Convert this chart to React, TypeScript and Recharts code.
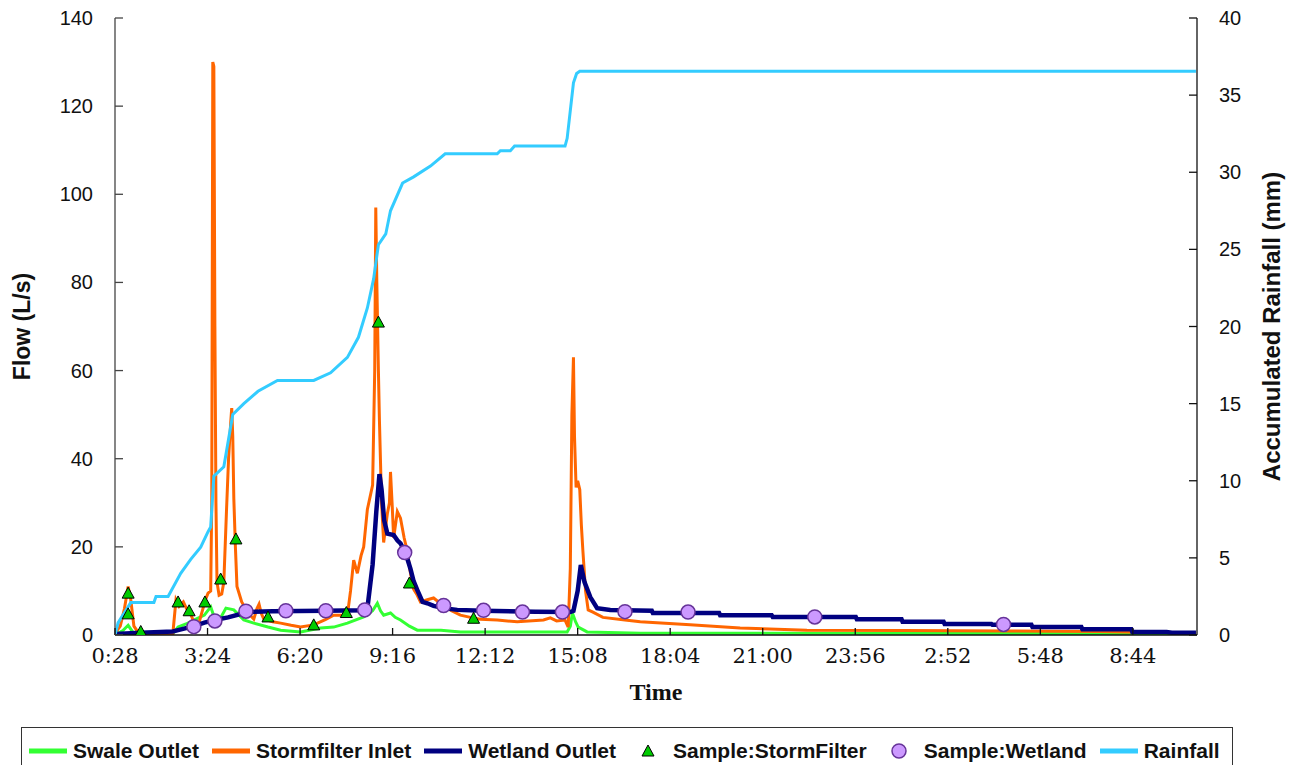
import React from "react";
import { ComposedChart, Line, Scatter, XAxis, YAxis, Label } from "recharts";

// ---------- axes ----------
const TICK_STEP = 176; // minutes between time ticks
const tickLabels = ["0:28", "3:24", "6:20", "9:16", "12:12", "15:08", "18:04", "21:00", "23:56", "2:52", "5:48", "8:44"];
const X_MAX = 2058; // minutes after 0:28
const flowTicks = [0, 20, 40, 60, 80, 100, 120, 140];
const rainTicks = [0, 5, 10, 15, 20, 25, 30, 35, 40];

// ---------- series: [minutes after 0:28, value] ----------
const swaleOutlet = [
  [0, 0], [15, 1], [25, 2.2], [36, 0.3], [110, 0.3], [120, 1.8], [135, 2.5], [150, 3.4], [170, 4.5], [182, 6.4],
  [186, 5], [190, 3.4], [201, 3.9], [211, 6.1], [226, 5.7], [245, 3.4], [264, 2.7], [291, 1.8], [315, 1.1], [353, 0.7],
  [391, 1.6], [416, 1.8], [442, 2.7], [473, 4.1], [490, 5.5], [499, 7.2], [505, 5.5], [511, 4.5], [524, 5], [533, 4],
  [543, 3.4], [560, 2], [575, 1.1], [620, 1.1], [657, 0.7], [860, 0.7], [866, 2], [870, 5], [876, 3], [881, 1.8],
  [898, 0.7], [1000, 0.4], [2056, 0.3],
];

const stormfilterInlet = [
  [0, 0.4], [10, 2], [18, 6], [25, 11], [30, 8], [36, 2], [44, 0.6], [60, 0.2], [90, 0], [110, 0.3],
  [116, 8], [122, 6.5], [130, 7.5], [136, 6], [141, 5.5], [150, 3], [158, 2], [165, 5], [172, 8], [177, 9.5],
  [182, 10], [184, 30], [186, 130], [188, 129], [190, 70], [192, 30], [194, 12], [198, 9], [203, 9.3], [207, 12],
  [212, 28], [216, 40], [220, 48], [222, 51.5], [224, 45], [226, 31], [229, 20], [232, 11], [241, 7.5], [253, 5],
  [264, 3.6], [270, 6], [274, 7], [278, 5], [283, 3.6], [300, 3], [315, 2.7], [335, 2.2], [353, 1.8], [378, 2.3],
  [400, 3.5], [416, 4.5], [442, 4.5], [448, 10], [454, 17], [461, 14], [468, 18], [473, 20], [480, 28.5], [490, 34],
  [494, 60], [496, 97], [498, 80], [501, 60], [503, 48.5], [507, 30], [511, 21], [518, 27.5], [522, 30], [524, 37],
  [527, 30], [530, 22], [537, 28], [543, 26.5], [550, 22], [556, 19], [562, 14], [568, 10.4], [575, 9], [581, 7.5],
  [594, 8], [606, 8.4], [625, 6.6], [640, 5.5], [657, 4.5], [676, 4], [695, 3.6], [727, 3.4], [765, 3], [815, 3.4],
  [828, 3.9], [840, 3.2], [856, 3.4], [862, 1.8], [866, 15], [869, 50], [872, 63], [874, 45], [877, 33.5], [880, 35],
  [884, 33], [887, 25], [890, 19], [895, 10], [900, 5.7], [909, 5.2], [928, 4], [970, 3.4], [999, 3], [1094, 2.3],
  [1189, 1.6], [1316, 1.1], [1500, 1.0], [1700, 0.9], [1872, 0.8], [1950, 0.6], [2056, 0.5],
];

const wetlandOutlet = [
  [0, 0.2], [50, 0.5], [110, 0.8], [120, 1.1], [150, 2], [170, 2.8], [190, 3.4], [215, 4], [253, 5.2], [300, 5.4],
  [400, 5.5], [475, 5.6], [480, 6], [490, 16], [497, 28], [503, 36.5], [507, 33], [512, 26], [518, 23], [530, 22.7],
  [537, 21.5], [543, 20.8], [553, 18.5], [562, 15], [568, 12.2], [575, 10.2], [585, 7.5], [594, 7.2], [606, 6.6], [625, 6.1],
  [651, 5.7], [700, 5.5], [800, 5.3], [866, 5.2], [872, 5.5], [880, 10], [886, 15.9], [893, 12], [904, 8.6], [917, 6.1],
  [942, 5.7], [1021, 5.5], [1023, 5.0], [1149, 5.0], [1151, 4.5], [1249, 4.5], [1251, 4.1], [1409, 4.1], [1411, 3.6], [1496, 3.6],
  [1498, 3.0], [1576, 3.0], [1578, 2.5], [1667, 2.5], [1669, 2.3], [1743, 2.3], [1745, 1.8], [1838, 1.8], [1840, 1.3], [1933, 1.3],
  [1935, 0.7], [2000, 0.7], [2010, 0.5], [2056, 0.5],
];

const sampleStormFilter = [
  [25, 9.5], [25, 4.8], [49, 0.8], [120, 7.5], [141, 5.5], [171, 7.5], [201, 12.7], [230, 21.8], [291, 4.1], [378, 2.3],
  [440, 5.1], [501, 71], [560, 11.8], [682, 3.8],
];

const sampleWetland = [
  [150, 1.9], [190, 3.2], [249, 5.4], [325, 5.5], [401, 5.5], [475, 5.7], [551, 18.7], [625, 6.7], [701, 5.6], [775, 5.2],
  [851, 5.2], [970, 5.3], [1090, 5.2], [1331, 4.1], [1690, 2.4],
];

const rainfall = [
  [0, 0], [6, 0.8], [30, 2.1], [74, 2.1], [78, 2.5], [101, 2.5], [125, 4.0], [144, 4.9], [163, 5.7], [177, 6.7],
  [182, 7.0], [188, 10.3], [207, 10.9], [224, 14.3], [245, 15.0], [272, 15.8], [309, 16.5], [378, 16.5], [410, 17.0], [442, 18.0],
  [463, 19.3], [480, 21.2], [492, 23.1], [501, 25.3], [515, 26.0], [524, 27.5], [547, 29.3], [568, 29.7], [600, 30.4], [628, 31.2],
  [727, 31.2], [733, 31.4], [752, 31.4], [760, 31.7], [856, 31.7], [860, 32.2], [866, 34.0], [872, 35.8], [878, 36.4], [884, 36.55],
  [2056, 36.55],
];

const COLORS = {
  swale: "#33FF33",
  inlet: "#FF6600",
  wetland: "#000080",
  triangle: "#00CC00",
  circle: "#CC99FF",
  circleStroke: "#663399",
  rain: "#33CCFF",
};

const toRows = (pairs: number[][]) => pairs.map(([t, v]) => ({ t, v }));

const SANS = "'Liberation Sans', Arial, sans-serif";
const SERIF = "'DejaVu Serif', serif";

function XTick(props: any) {
  const { x, y, payload } = props;
  const label = tickLabels[Math.round(payload.value / TICK_STEP)];
  return (
    <g>
      <line x1={x} x2={x} y1={y} y2={y - 7} stroke="#111" strokeWidth={1.3} />
      <text x={x} y={y + 28} textAnchor="middle" fontFamily={SERIF} fontSize={21} fill="#111">
        {label}
      </text>
    </g>
  );
}

function LeftTick(props: any) {
  const { x, y, payload } = props;
  return (
    <g>
      <line x1={x} x2={x + 8} y1={y} y2={y} stroke="#444" strokeWidth={1.3} />
      <text x={x - 22} y={y + 7} textAnchor="end" fontFamily={SANS} fontSize={20} fill="#111">
        {payload.value}
      </text>
    </g>
  );
}

function RightTick(props: any) {
  const { x, y, payload } = props;
  return (
    <g>
      <line x1={x} x2={x - 8} y1={y} y2={y} stroke="#111" strokeWidth={1.3} />
      <text x={x + 22} y={y + 7} textAnchor="start" fontFamily={SANS} fontSize={20} fill="#111">
        {payload.value}
      </text>
    </g>
  );
}

function Triangle(props: any) {
  const { cx, cy } = props;
  if (cx == null || cy == null) return null;
  return (
    <path
      d={`M${cx},${cy - 6} L${cx + 6},${cy + 5} L${cx - 6},${cy + 5} Z`}
      fill={COLORS.triangle}
      stroke="#000"
      strokeWidth={1}
    />
  );
}

function Circle(props: any) {
  const { cx, cy } = props;
  if (cx == null || cy == null) return null;
  return <circle cx={cx} cy={cy} r={7} fill={COLORS.circle} stroke={COLORS.circleStroke} strokeWidth={1.5} />;
}

const legendItems = [
  { name: "Swale Outlet", kind: "line", color: COLORS.swale },
  { name: "Stormfilter Inlet", kind: "line", color: COLORS.inlet },
  { name: "Wetland Outlet", kind: "line", color: COLORS.wetland },
  { name: "Sample:StormFilter", kind: "triangle", color: COLORS.triangle },
  { name: "Sample:Wetland", kind: "circle", color: COLORS.circle },
  { name: "Rainfall", kind: "line", color: COLORS.rain },
];

function LegendSwatch({ kind, color }: { kind: string; color: string }) {
  return (
    <svg width={38} height={20} style={{ display: "block" }}>
      {kind === "line" && <line x1={0} x2={38} y1={10} y2={10} stroke={color} strokeWidth={5} />}
      {kind === "triangle" && <path d="M19,4 L25,15 L13,15 Z" fill={color} stroke="#000" strokeWidth={1} />}
      {kind === "circle" && <circle cx={19} cy={10} r={7} fill={color} stroke={COLORS.circleStroke} strokeWidth={1.5} />}
    </svg>
  );
}

export default function App() {
  const tickValues = tickLabels.map((_, i) => i * TICK_STEP);
  return (
    <div style={{ position: "absolute", left: 0, top: 0, width: 1295, height: 765, background: "#fff", overflow: "hidden" }}>
      <ComposedChart width={1295} height={765} margin={{ top: 18, right: 0, bottom: 90, left: 0 }}>
        <XAxis
          xAxisId="top"
          orientation="top"
          type="number"
          dataKey="t"
          domain={[0, X_MAX]}
          height={0}
          tick={false}
          tickLine={false}
          axisLine={{ stroke: "#444", strokeWidth: 1.3 }}
          allowDataOverflow
        />
        <XAxis
          type="number"
          dataKey="t"
          domain={[0, X_MAX]}
          ticks={tickValues}
          interval={0}
          height={40}
          tickSize={0}
          tickMargin={0}
          tickLine={false}
          tick={<XTick />}
          axisLine={{ stroke: "#111", strokeWidth: 1.3 }}
          allowDataOverflow
        >
          <Label
            value="Time"
            position="bottom"
            offset={8}
            style={{ fontFamily: "'Liberation Serif', serif", fontWeight: 700, fontSize: 24, fill: "#111" }}
          />
        </XAxis>
        <YAxis
          yAxisId="left"
          width={115}
          domain={[0, 140]}
          ticks={flowTicks}
          interval={0}
          tickSize={0}
          tickMargin={0}
          tickLine={false}
          tick={<LeftTick />}
          axisLine={{ stroke: "#444", strokeWidth: 1.3 }}
          allowDataOverflow
        >
          <Label
            content={(p: any) => {
              const vb = p.viewBox || {};
              const cy = (vb.y ?? 0) + (vb.height ?? 0) / 2;
              return (
                <text
                  x={22}
                  y={cy}
                  transform={`rotate(-90, 22, ${cy})`}
                  textAnchor="middle"
                  dominantBaseline="central"
                  fontFamily={SANS}
                  fontWeight={700}
                  fontSize={23}
                  fill="#111"
                >
                  Flow (L/s)
                </text>
              );
            }}
          />
        </YAxis>
        <YAxis
          yAxisId="right"
          orientation="right"
          width={98}
          domain={[0, 40]}
          ticks={rainTicks}
          interval={0}
          tickSize={0}
          tickMargin={0}
          tickLine={false}
          tick={<RightTick />}
          axisLine={{ stroke: "#111", strokeWidth: 1.3 }}
          allowDataOverflow
        >
          <Label
            content={(p: any) => {
              const vb = p.viewBox || {};
              const cy = (vb.y ?? 0) + (vb.height ?? 0) / 2;
              return (
                <text
                  x={1271}
                  y={cy}
                  transform={`rotate(-90, 1271, ${cy})`}
                  textAnchor="middle"
                  dominantBaseline="central"
                  fontFamily={SANS}
                  fontWeight={700}
                  fontSize={24}
                  fill="#111"
                >
                  Accumulated Rainfall (mm)
                </text>
              );
            }}
          />
        </YAxis>

        <Line
          yAxisId="left"
          data={toRows(swaleOutlet)}
          dataKey="v"
          name="Swale Outlet"
          type="linear"
          stroke={COLORS.swale}
          strokeWidth={3}
          dot={false}
          isAnimationActive={false}
        />
        <Line
          yAxisId="left"
          data={toRows(stormfilterInlet)}
          dataKey="v"
          name="Stormfilter Inlet"
          type="linear"
          stroke={COLORS.inlet}
          strokeWidth={3}
          dot={false}
          isAnimationActive={false}
        />
        <Line
          yAxisId="left"
          data={toRows(wetlandOutlet)}
          dataKey="v"
          name="Wetland Outlet"
          type="linear"
          stroke={COLORS.wetland}
          strokeWidth={4.5}
          dot={false}
          isAnimationActive={false}
        />
        <Line
          yAxisId="right"
          data={toRows(rainfall)}
          dataKey="v"
          name="Rainfall"
          type="linear"
          stroke={COLORS.rain}
          strokeWidth={3}
          dot={false}
          isAnimationActive={false}
        />
        <Scatter
          yAxisId="left"
          data={toRows(sampleStormFilter)}
          dataKey="v"
          name="Sample:StormFilter"
          shape={<Triangle />}
          isAnimationActive={false}
        />
        <Scatter
          yAxisId="left"
          data={toRows(sampleWetland)}
          dataKey="v"
          name="Sample:Wetland"
          shape={<Circle />}
          isAnimationActive={false}
        />
      </ComposedChart>

      <div
        style={{
          position: "absolute",
          left: 21,
          top: 727,
          width: 1212,
          height: 60,
          border: "1.5px solid #333",
          boxSizing: "border-box",
          display: "flex",
          alignItems: "flex-start",
          paddingLeft: 7,
          paddingTop: 11,
          fontFamily: SANS,
          fontWeight: 700,
          fontSize: 21,
          color: "#111",
        }}
      >
        {legendItems.map((it) => (
          <div key={it.name} style={{ display: "flex", alignItems: "center", marginRight: 13, lineHeight: "24px" }}>
            <LegendSwatch kind={it.kind} color={it.color} />
            <span style={{ marginLeft: 6, whiteSpace: "nowrap" }}>{it.name}</span>
          </div>
        ))}
      </div>
    </div>
  );
}
